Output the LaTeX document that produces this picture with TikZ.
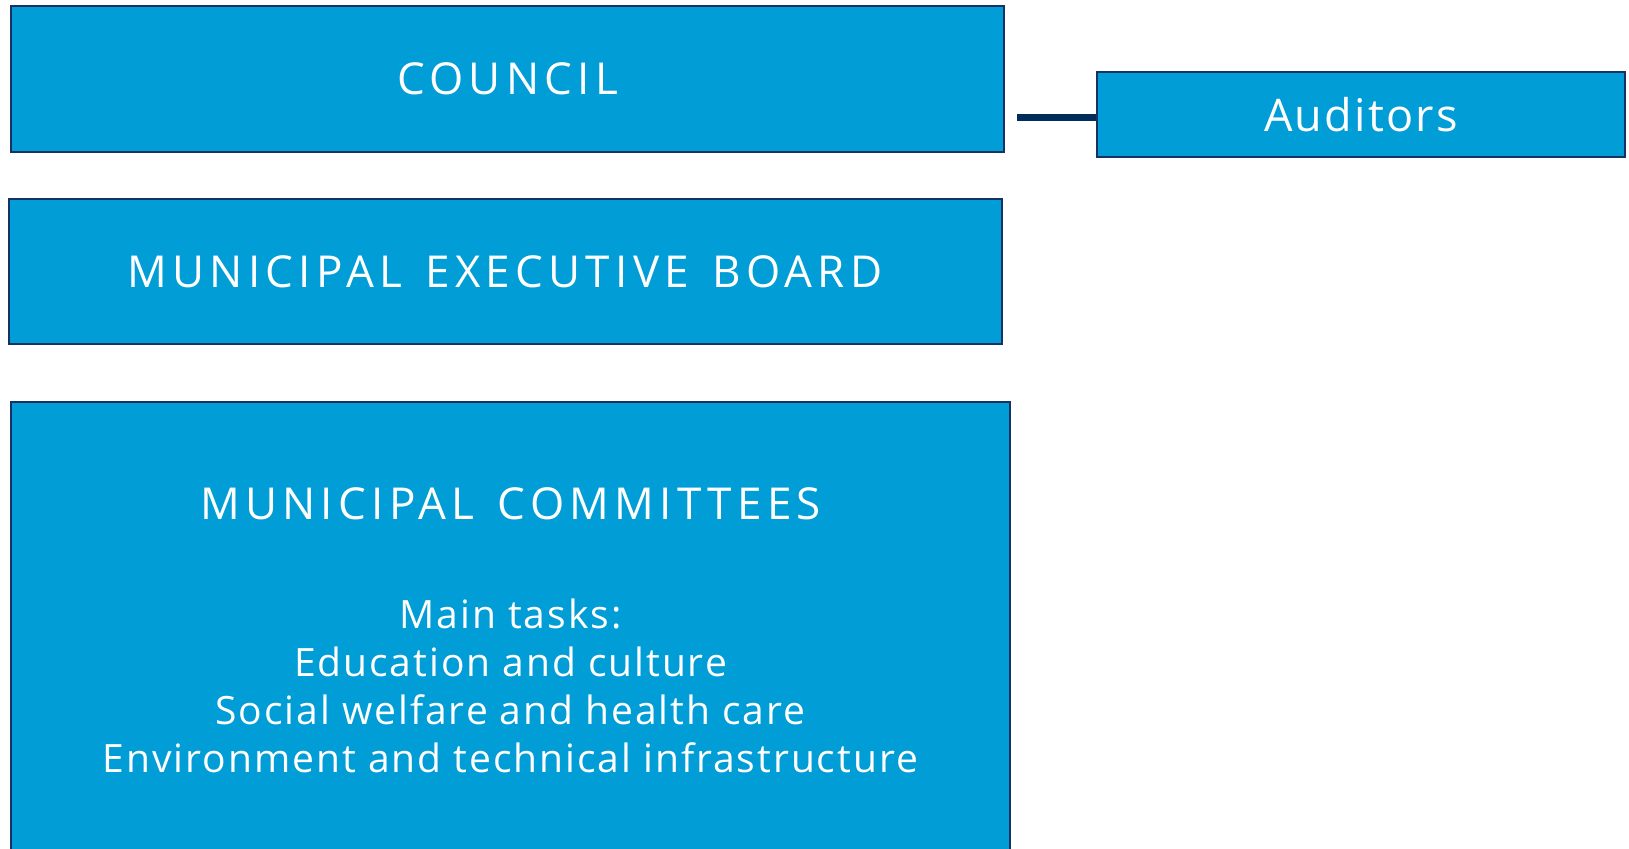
\documentclass[tikz,border=0pt]{standalone}
\usepackage{fontspec}
\setmainfont{Open Sans}
\newfontfamily\capsfont[LetterSpace=12,WordSpace=1.4]{Open Sans}
\newfontfamily\lowfont[LetterSpace=5]{Open Sans}
\definecolor{boxfill}{RGB}{0,157,214}
\definecolor{boxline}{RGB}{22,50,100}
\definecolor{conn}{RGB}{0,45,90}
\begin{document}
\begin{tikzpicture}[x=1pt,y=-1pt,
  orgbox/.style={draw=boxline,line width=2pt,fill=boxfill,text=white,inner sep=0pt},
  big/.style={text=white,font=\capsfont\fontsize{44}{48}\selectfont},
  aud/.style={text=white,font=\lowfont\fontsize{45}{48}\selectfont},
  small/.style={text=white,font=\lowfont\fontsize{39}{48}\selectfont,align=center}]
\useasboundingbox (0,0) rectangle (1629,848);
\clip (0,0) rectangle (1629,848);
\node[orgbox,minimum width=993pt,minimum height=145pt] (council) at (507.5,79) {};
\node[big] (counciltxt) at (council.center) {COUNCIL};
\node[orgbox,minimum width=528pt,minimum height=85pt] (aud) at (1361,114.5) {};
\node[aud] (audtxt) at (aud.center) {Auditors};
\node[orgbox,minimum width=993pt,minimum height=145pt] (meb) at (505,271.5) {};
\node[big] (mebtxt) at (meb.center) {MUNICIPAL EXECUTIVE BOARD};
\node[orgbox,minimum width=999pt,minimum height=470pt] (com) at (510.5,637) {};
\node[big] (comtxt) at (510.5,504) {MUNICIPAL COMMITTEES};
\node[small] (tasks) at (510.5,686) {Main tasks:\\Education and culture\\Social welfare and health care\\Environment and technical infrastructure};
\coordinate (cstart) at (1017,117.5);
\draw[conn,line width=7pt] (cstart) -- (aud.west |- cstart);
\end{tikzpicture}
\end{document}
